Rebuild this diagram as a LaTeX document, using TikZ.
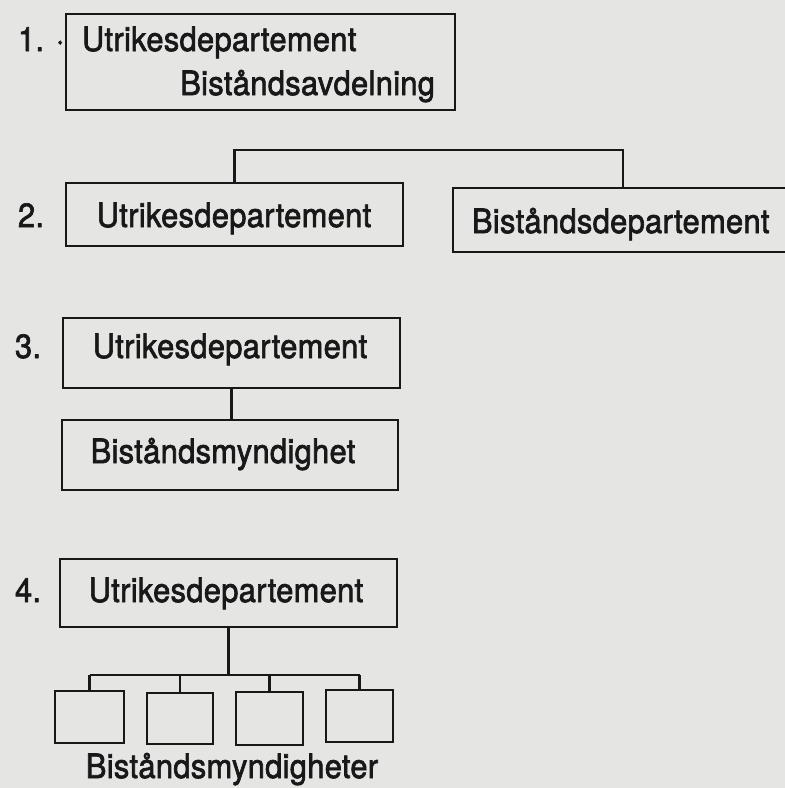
\documentclass[tikz,border=0pt]{standalone}
\usepackage{fontspec}
\setmainfont{TeX Gyre Heros}[FakeBold=2, FakeStretch=0.92, LetterSpace=1]
\definecolor{paper}{RGB}{229,229,227}
\definecolor{ink}{RGB}{24,24,24}
\begin{document}
\begin{tikzpicture}[x=1pt,y=-1pt,
  orgbox/.style={draw=ink, line width=2.7pt, fill=paper, inner sep=0pt, outer sep=0pt},
  txt/.style={inner sep=0pt, outer sep=0pt, text=ink, font=\fontsize{33.5}{36}\selectfont},
  link/.style={draw=ink, line width=2.7pt}]
\fill[paper] (0,0) rectangle (785,788);
\useasboundingbox (0,0) rectangle (785,788);

% 1
\node[orgbox, minimum width=389pt, minimum height=96pt] (box1) at (260.5,62) {};
\node[txt, anchor=base west] (n1) at (18,51) {1. ·};
\node[txt, anchor=base west] (t1a) at (82,51) {Utrikesdepartement};
\node[txt, anchor=base east] (t1b) at (435,95) {Biståndsavdelning};

% 2
\node[orgbox, minimum width=337pt, minimum height=63pt] (ud2) at (234.5,214.5) {};
\node[orgbox, minimum width=340pt, minimum height=64pt] (bd2) at (623,220) {};
\coordinate (top2) at (0,150);
\draw[link] (ud2.north) -- (ud2.north |- top2) -| (bd2.north);
\node[txt, anchor=base west] (n2) at (18,227) {2.};
\node[txt, anchor=base] (t2a) at (234,227) {Utrikesdepartement};
\node[txt, anchor=base west] (t2b) at (472,233) {Biståndsdepartement};

% 3
\node[orgbox, minimum width=337pt, minimum height=70pt] (ud3) at (231.5,353) {};
\node[orgbox, minimum width=336pt, minimum height=70pt] (bm3) at (230,455) {};
\draw[link] (ud3.south) -- (ud3.south |- bm3.north);
\node[txt, anchor=base west] (n3) at (15,358) {3.};
\node[txt, anchor=base] (t3a) at (230,358) {Utrikesdepartement};
\node[txt, anchor=base] (t3b) at (223,463) {Biståndsmyndighet};

% 4
\node[orgbox, minimum width=337pt, minimum height=68pt] (ud4) at (228.5,593) {};
\node[orgbox, minimum width=69pt, minimum height=52pt] (s1) at (89.5,717) {};
\node[orgbox, minimum width=66pt, minimum height=51pt] (s2) at (180,718.5) {};
\node[orgbox, minimum width=67pt, minimum height=53pt] (s3) at (269.5,718.5) {};
\node[orgbox, minimum width=67pt, minimum height=52pt] (s4) at (359.5,716) {};
\coordinate (bar) at (227,675);
\draw[link] (ud4.south) -- (ud4.south |- bar);
\draw[link] (s1.north |- bar) -- (s4.north |- bar);
\foreach \s in {s1,s2,s3,s4} \draw[link] (\s.north |- bar) -- (\s.north);
\node[txt, anchor=base west] (n4) at (15,602) {4.};
\node[txt, anchor=base] (t4a) at (226,602) {Utrikesdepartement};
\node[txt, anchor=base] (t4b) at (232,778) {Biståndsmyndigheter};
\end{tikzpicture}
\end{document}
